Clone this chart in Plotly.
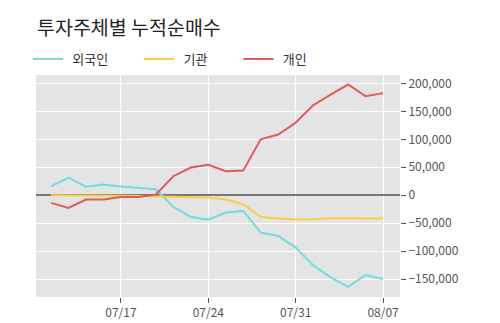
import plotly.graph_objects as go

dates = ["07/11", "07/12", "07/13", "07/14", "07/17", "07/18", "07/19", "07/20", "07/21",
         "07/24", "07/25", "07/26", "07/27", "07/28", "07/31", "08/01", "08/02", "08/03",
         "08/04", "08/07"]
foreign = [16000, 31500, 15000, 19000, 15500, 12500, 10700, -21000, -38800, -43600,
           -31000, -28000, -66800, -72800, -93700, -125000, -147000, -164000, -142600, -149800]
inst = [0, 0, 0, 0, -1000, -1500, -2000, -3000, -3000, -4000,
        -7800, -16000, -38800, -41800, -43200, -43000, -41200, -41500, -41500, -41800]
indiv = [-13700, -22700, -7800, -7800, -3000, -3000, 1200, 34000, 49500, 54600,
         43000, 44000, 100000, 108600, 129500, 161000, 180000, 198000, 177000, 182600]

tick_dates = ["07/17", "07/24", "07/31", "08/07"]
ytick_vals = [-150000, -100000, -50000, 0, 50000, 100000, 150000, 200000]
series_names = ["외국인", "기관", "개인"]

font = "Noto Sans CJK KR"
pad_l = "\u2004"
pad_r = "\u2003\u2003"
fig = go.Figure()
fig.add_trace(go.Scatter(x=dates, y=foreign, name=pad_l + series_names[0] + pad_r, mode="lines",
                         line=dict(color="#74dcdc", width=2)))
fig.add_trace(go.Scatter(x=dates, y=inst, name=pad_l + series_names[1] + pad_r, mode="lines",
                         line=dict(color="#f7cf4a", width=2)))
fig.add_trace(go.Scatter(x=dates, y=indiv, name=pad_l + series_names[2] + pad_r, mode="lines",
                         line=dict(color="#e05a5a", width=2)))

fig.update_layout(
    width=500, height=323,
    margin=dict(l=36, r=100, t=75, b=26, autoexpand=False),
    paper_bgcolor="white", plot_bgcolor="#e4e4e4",
    font=dict(family=font, size=12, color="#555"),
    title=dict(text="투자주체별 누적순매수", x=37/500, xanchor="left", xref="container",
               y=1-28/323, yanchor="middle", yref="container",
               font=dict(size=19.5, color="#222", family=font)),
    legend=dict(orientation="h", xref="container", yref="container",
                x=28/500, xanchor="left", y=1-59/323, yanchor="middle",
                font=dict(size=13, color="#333"), bgcolor="rgba(0,0,0,0)",
                itemwidth=30),
    showlegend=True,
)
fig.update_xaxes(type="category", categoryorder="array", categoryarray=dates,
                 range=[-0.86, 19.97], tickvals=tick_dates, ticktext=tick_dates,
                 showgrid=True, gridcolor="white", gridwidth=1,
                 ticks="outside", ticklen=5, tickcolor="#555",
                 tickfont=dict(size=12, color="#555"), showline=False, zeroline=False)
fig.update_yaxes(side="right", range=[-182000, 215000], tickvals=ytick_vals,
                 tickformat=",", showgrid=True, gridcolor="white", gridwidth=1,
                 ticks="outside", ticklen=5, tickcolor="#555",
                 tickfont=dict(size=12, color="#555"),
                 zeroline=True, zerolinecolor="#777", zerolinewidth=1.5, showline=False)
fig.write_html("out.html")
